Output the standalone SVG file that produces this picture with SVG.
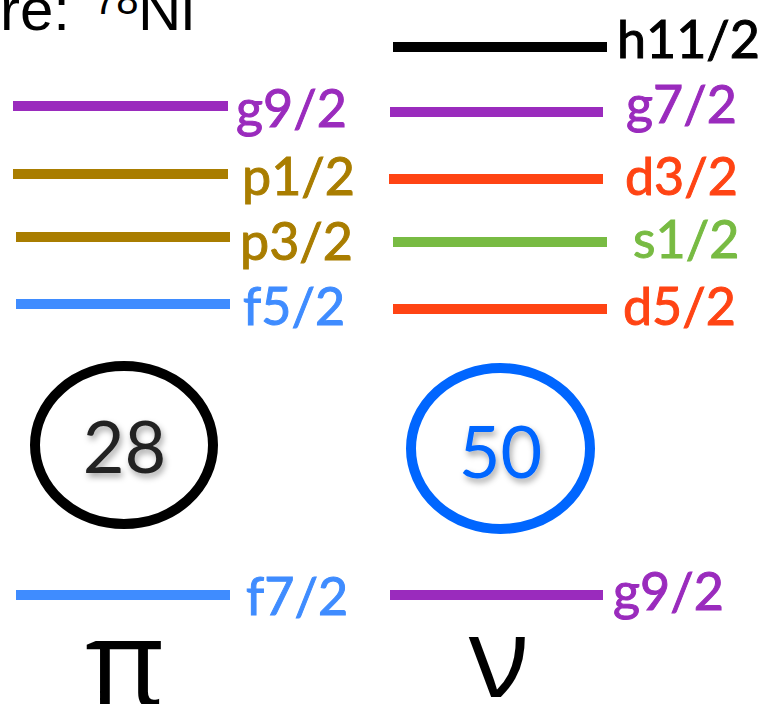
<svg xmlns="http://www.w3.org/2000/svg" width="768" height="704" viewBox="0 0 768 704">
<defs>
<style>
.lv{stroke-width:10;fill:none}
.lb{font-family:Lato,"Open Sans",sans-serif;font-size:52px}
.pu{stroke:#9a2bbd;fill:#9a2bbd}
.go{stroke:#a97d00;fill:#a97d00}
.bl{stroke:#3f8cff;fill:#3f8cff}
.rd{stroke:#ff4414;fill:#ff4414}
.gr{stroke:#78bb43;fill:#78bb43}
.bk{stroke:#000;fill:#000}
text{stroke:none}
.num{font-family:Lato,"Open Sans",sans-serif;font-size:72px;text-anchor:middle}
.gk{font-family:"Open Sans","DejaVu Sans",sans-serif;fill:#000;text-anchor:middle}
</style>
<filter id="sh" x="-20%" y="-20%" width="150%" height="150%">
<feDropShadow dx="2" dy="4" stdDeviation="3" flood-color="#000" flood-opacity="0.35"/>
</filter>
</defs>
<rect width="768" height="704" fill="#fff"/>
<text x="0" y="30" font-family="'Liberation Sans',Arial,sans-serif" font-size="60" fill="#000">re: <tspan x="94" y="14" font-size="40">78</tspan><tspan x="138" y="30">Ni</tspan></text>
<g id="proton-levels">
<g id="p-g92"><line class="lv pu" x1="13" y1="106" x2="228" y2="106"/><text class="lb pu" x="236" y="127">g9/2</text></g>
<g id="p-p12"><line class="lv go" x1="13" y1="174" x2="228" y2="174"/><text class="lb go" x="242" y="195">p1/2</text></g>
<g id="p-p32"><line class="lv go" x1="16" y1="237" x2="230" y2="237"/><text class="lb go" x="240" y="260">p3/2</text></g>
<g id="p-f52"><line class="lv bl" x1="16" y1="304" x2="230" y2="304"/><text class="lb bl" x="243" y="325">f5/2</text></g>
<g id="p-f72"><line class="lv bl" x1="16" y1="595" x2="230" y2="595"/><text class="lb bl" x="246" y="615">f7/2</text></g>
</g>
<g id="neutron-levels">
<g id="n-h112"><line class="lv bk" x1="393" y1="47" x2="607" y2="47"/><text class="lb bk" x="617" y="58">h11/2</text></g>
<g id="n-g72"><line class="lv pu" x1="390" y1="112" x2="603" y2="112"/><text class="lb pu" x="626" y="123">g7/2</text></g>
<g id="n-d32"><line class="lv rd" x1="389" y1="179" x2="603" y2="179"/><text class="lb rd" x="625" y="195">d3/2</text></g>
<g id="n-s12"><line class="lv gr" x1="393" y1="242" x2="607" y2="242"/><text class="lb gr" x="633" y="258">s1/2</text></g>
<g id="n-d52"><line class="lv rd" x1="393" y1="309" x2="607" y2="309"/><text class="lb rd" x="623" y="325">d5/2</text></g>
<g id="n-g92"><line class="lv pu" x1="390" y1="595" x2="603" y2="595"/><text class="lb pu" x="613" y="610">g9/2</text></g>
</g>
<g id="magic-28">
<ellipse cx="124" cy="445" rx="89" ry="79" fill="none" stroke="#000" stroke-width="10"/>
<text class="num" x="124.5" y="473" fill="#222" filter="url(#sh)">28</text>
</g>
<g id="magic-50">
<ellipse cx="500.5" cy="448.5" rx="89.5" ry="80.5" fill="none" stroke="#0066ff" stroke-width="10"/>
<text class="num" x="500.5" y="478" fill="#0066ff" filter="url(#sh)">50</text>
</g>
<text id="pi" class="gk" x="125" y="707" font-size="122">π</text>
<text id="nu" class="gk" x="499" y="697" font-size="112">ν</text>
<g id="connectors"/>
</svg>
